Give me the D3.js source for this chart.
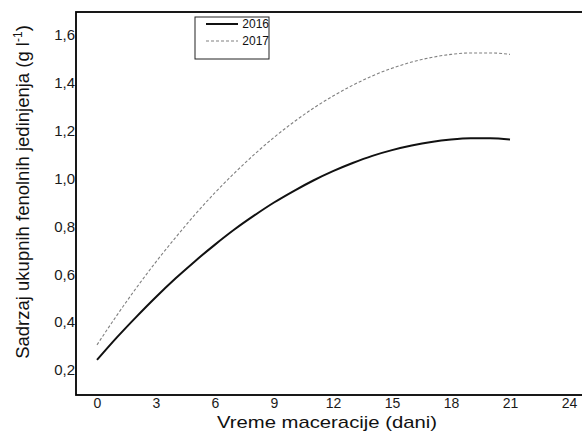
<!DOCTYPE html>
<html>
<head>
<meta charset="utf-8">
<script src="https://cdn.jsdelivr.net/npm/d3@7"></script>
<style>
  body { margin: 0; background: #fff; }
  svg text { font-family: "Liberation Sans", Arial, sans-serif; }
</style>
</head>
<body>
<svg id="chart"></svg>
<script>
// days of maceration
const days = [0, 1, 2, 3, 4, 5, 6, 7, 8, 9, 10, 11, 12, 13, 14, 15, 16, 17, 18, 19, 20, 21];
// total phenolics (g/l)
const values2016 = [0.242, 0.335, 0.422, 0.505, 0.583, 0.656, 0.724, 0.788, 0.846, 0.900, 0.948,
  0.992, 1.031, 1.065, 1.095, 1.119, 1.138, 1.153, 1.163, 1.168, 1.168, 1.163];
const values2017 = [0.305, 0.427, 0.543, 0.652, 0.754, 0.851, 0.941, 1.024, 1.101, 1.172, 1.236,
  1.294, 1.345, 1.390, 1.429, 1.461, 1.487, 1.506, 1.519, 1.525, 1.525, 1.519];
const xTicks = [0, 3, 6, 9, 12, 15, 18, 21, 24];
const yTicks = [0.2, 0.4, 0.6, 0.8, 1.0, 1.2, 1.4, 1.6];
const seriesNames = ["2016", "2017"];

const width = 582, height = 438;
const svg = d3.select("#chart").attr("width", width).attr("height", height);

const frameLeft = 76, frameTop = 12, frameBottom = 395;
const frameRight = 640; // frame continues past the picture edge
const x = d3.scaleLinear().domain([0, 24]).range([97, 569]);
const y = d3.scaleLinear().domain([0.2, 1.6]).range([370, 35]);

// frame
svg.append("rect")
  .attr("x", frameLeft).attr("y", frameTop)
  .attr("width", frameRight - frameLeft).attr("height", frameBottom - frameTop)
  .attr("fill", "none").attr("stroke", "#000").attr("stroke-width", 1.8);

// axis labels (no tick marks)
const xAxis = svg.append("g").attr("transform", `translate(0,${frameBottom})`)
  .call(d3.axisBottom(x).tickValues(xTicks).tickSize(0).tickPadding(3));
xAxis.select(".domain").remove();
xAxis.selectAll("text").attr("font-size", 14).attr("fill", "#1a1a1a");

const yAxis = svg.append("g").attr("transform", `translate(${frameLeft},0)`)
  .call(d3.axisLeft(y).tickValues(yTicks).tickSize(0).tickPadding(1)
    .tickFormat(d => d3.format(".1f")(d).replace(".", ",")));
yAxis.select(".domain").remove();
yAxis.selectAll("text").attr("font-size", 15).attr("fill", "#1a1a1a");

// axis titles
svg.append("text")
  .attr("x", 327).attr("y", 428)
  .attr("text-anchor", "middle").attr("font-size", 17).attr("fill", "#111")
  .attr("textLength", 220).attr("lengthAdjust", "spacingAndGlyphs")
  .text("Vreme maceracije (dani)");

const yTitle = svg.append("text")
  .attr("transform", "translate(29,192) rotate(-90)")
  .attr("text-anchor", "middle").attr("font-size", 18.5).attr("fill", "#111");
yTitle.append("tspan").text("Sadrzaj ukupnih fenolnih jedinjenja (g l");
yTitle.append("tspan").attr("font-size", 12).attr("dy", -7).text("-1");
yTitle.append("tspan").attr("dy", 7).text(")");

// curves
const line = d3.line().x((d, i) => x(days[i])).y(d => y(d)).curve(d3.curveMonotoneX);

svg.append("path").datum(values2017)
  .attr("d", line).attr("fill", "none")
  .attr("stroke", "#808080").attr("stroke-width", 1.1).attr("stroke-dasharray", "3,2");

svg.append("path").datum(values2016)
  .attr("d", line).attr("fill", "none")
  .attr("stroke", "#111").attr("stroke-width", 2);

// legend
const legend = svg.append("g");
legend.append("rect")
  .attr("x", 195).attr("y", 17).attr("width", 74).attr("height", 42)
  .attr("fill", "#fff").attr("stroke", "#222").attr("stroke-width", 1);
const legendStyles = [
  { stroke: "#111", width: 2, dash: null },
  { stroke: "#808080", width: 1.1, dash: "3,2" }
];
seriesNames.forEach((name, i) => {
  const ly = 24 + i * 17;
  legend.append("line")
    .attr("x1", 206).attr("x2", 238).attr("y1", ly).attr("y2", ly)
    .attr("stroke", legendStyles[i].stroke).attr("stroke-width", legendStyles[i].width)
    .attr("stroke-dasharray", legendStyles[i].dash);
  legend.append("text")
    .attr("x", 269).attr("y", ly + 4).attr("text-anchor", "end")
    .attr("font-size", 12).attr("fill", "#111").text(name);
});
</script>
</body>
</html>
